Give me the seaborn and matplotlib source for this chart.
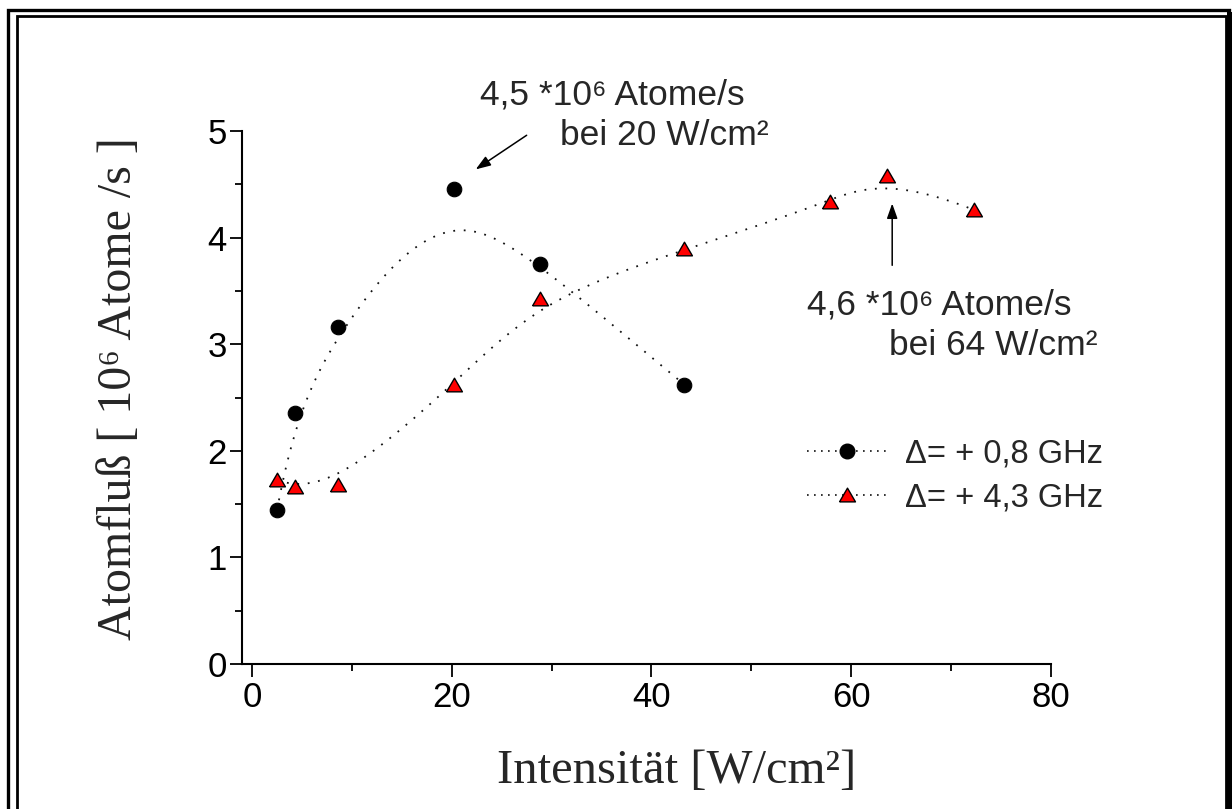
import numpy as np
import matplotlib
matplotlib.use("Agg")
import matplotlib.pyplot as plt
import seaborn as sns
from matplotlib.lines import Line2D
from matplotlib.patches import Rectangle
from matplotlib.path import Path
from matplotlib.markers import MarkerStyle

# Measured atom flux vs. laser intensity for two detunings
intensity_a = [2.5, 4.3, 8.6, 20.2, 28.8, 43.3]
flux_a = [1.44, 2.35, 3.16, 4.46, 3.75, 2.62]

intensity_b = [2.5, 4.3, 8.6, 20.2, 28.8, 43.3, 57.9, 63.6, 72.3]
flux_b = [1.73, 1.66, 1.68, 2.62, 3.42, 3.89, 4.33, 4.58, 4.26]

label_a = "Δ= + 0,8 GHz"
label_b = "Δ= + 4,3 GHz"

x_ticks = [0, 20, 40, 60, 80]
y_ticks = [0, 1, 2, 3, 4, 5]

SANS = ["Liberation Sans", "DejaVu Sans"]
SERIF = ["Liberation Serif", "DejaVu Serif"]

sns.set_style("ticks")
plt.rcParams["font.family"] = SANS


def bspline(xs, ys, n=400, k=3):
    """Clamped uniform cubic B-spline using the points as control points."""
    P = np.column_stack([xs, ys]).astype(float)
    m = len(P)
    knots = np.concatenate([np.zeros(k), np.linspace(0, 1, m - k + 1), np.ones(k)])
    u = np.linspace(0, 1, n)
    u[-1] -= 1e-9
    N = np.zeros((n, len(knots) - 1))
    for i in range(len(knots) - 1):
        N[:, i] = (knots[i] <= u) & (u < knots[i + 1])
    for d in range(1, k + 1):
        Nn = np.zeros((n, len(knots) - 1 - d))
        for i in range(len(knots) - 1 - d):
            a = knots[i + d] - knots[i]
            b = knots[i + d + 1] - knots[i + 1]
            t1 = (u - knots[i]) / a * N[:, i] if a > 0 else 0
            t2 = (knots[i + d + 1] - u) / b * N[:, i + 1] if b > 0 else 0
            Nn[:, i] = t1 + t2
        N = Nn
    return N @ P


W, H = 1232, 809
fig = plt.figure(figsize=(W / 100, H / 100), dpi=100)
fig.patch.set_facecolor("white")


def fx(px):
    return px / W


def fy(py):
    return 1 - py / H


# double frame with shadow around the page
fig.add_artist(Rectangle((fx(8), fy(830)), fx(1229) - fx(8), fy(10.5) - fy(830),
                         transform=fig.transFigure, fill=False, lw=2.4,
                         ec="black", clip_on=False))
fig.add_artist(Rectangle((fx(16.5), fy(830)), fx(1225.5) - fx(16.5), fy(16) - fy(830),
                         transform=fig.transFigure, fill=False, lw=2.0,
                         ec="black", clip_on=False))
fig.add_artist(Rectangle((fx(1226.5), fy(830)), fx(1232) - fx(1226.5), fy(12) - fy(830),
                         transform=fig.transFigure, fill=True, lw=0,
                         fc="black", clip_on=False))

ax = fig.add_axes([fx(242), fy(664), fx(1051) - fx(242), fy(131) - fy(664)])
ax.set_facecolor("white")

dot_style = (0, (1.0, 4.8))
curve_a = bspline(intensity_a, flux_a)
curve_b = bspline(intensity_b, flux_b)
sns.lineplot(x=curve_a[:, 0], y=curve_a[:, 1], sort=False, estimator=None,
             color="#111111", lw=1.3, linestyle=dot_style, ax=ax)
sns.lineplot(x=curve_b[:, 0], y=curve_b[:, 1], sort=False, estimator=None,
             color="#111111", lw=1.3, linestyle=dot_style, ax=ax)

tri = MarkerStyle(Path([(-1, -0.80), (1, -0.80), (0, 0.92), (-1, -0.80)]))
sns.scatterplot(x=intensity_a, y=flux_a, marker="o", s=110, color="black",
                edgecolor="black", linewidth=0.8, ax=ax, zorder=3)
sns.scatterplot(x=intensity_b, y=flux_b, marker=tri, s=130, color="#ff0000",
                edgecolor="black", linewidth=1.0, ax=ax, zorder=3)

ax.set_xlim(-1, 80)
ax.set_ylim(0, 5)
ax.set_xticks(x_ticks)
ax.set_yticks(y_ticks)
ax.set_xticks([10, 30, 50, 70], minor=True)
ax.set_yticks(np.arange(0.5, 5, 1.0), minor=True)
ax.set_xticklabels([str(v) for v in x_ticks])
ax.set_yticklabels([str(v) for v in y_ticks])
sns.despine(ax=ax)
for side in ("left", "bottom"):
    ax.spines[side].set_linewidth(1.5)
    ax.spines[side].set_color("black")
ax.tick_params(which="major", direction="out", length=9, width=1.3,
               labelsize=25, color="black", labelcolor="black")
ax.tick_params(which="minor", direction="out", length=5, width=1.3, color="black")
ax.tick_params(axis="y", which="major", pad=2)
ax.tick_params(axis="x", which="major", pad=3)

ax.set_xlabel("Intensität [W/cm²]", family=SERIF, fontsize=35, va="baseline")
ax.xaxis.set_label_coords((677 - 242) / 809, (664 - 783) / 533)
ax.set_ylabel("Atomfluß [ 10⁶ Atome /s ]", family=SERIF, fontsize=34.5,
              va="baseline")
ax.yaxis.set_label_coords((131 - 242) / 809, (664 - 389) / 533)

# annotations for the two maxima
arrow = dict(arrowstyle="-|>,head_length=0.9,head_width=0.32", color="black",
             lw=1.1, mutation_scale=10, shrinkA=0, shrinkB=0)
ax.annotate("", xy=(22.4, 4.64), xytext=(27.5, 4.96), arrowprops=arrow,
            annotation_clip=False)
ax.annotate("", xy=(64.1, 4.32), xytext=(64.1, 3.74), arrowprops=arrow,
            annotation_clip=False)
note_size = 25.5
ax.text(22.8, 5.244, "4,5 *10⁶ Atome/s", fontsize=note_size,
        ha="left", va="baseline")
ax.text(30.8, 4.869, "bei 20 W/cm²", fontsize=note_size,
        ha="left", va="baseline")
ax.text(55.6, 3.274, "4,6 *10⁶ Atome/s", fontsize=note_size,
        ha="left", va="baseline")
ax.text(63.8, 2.899, "bei 64 W/cm²", fontsize=note_size,
        ha="left", va="baseline")

handles = [
    Line2D([], [], color="#111111", lw=1.2, linestyle=(0, (1.0, 3.2)),
           marker="o", markersize=10.5, markerfacecolor="black",
           markeredgecolor="black"),
    Line2D([], [], color="#111111", lw=1.2, linestyle=(0, (1.0, 3.2)),
           marker=tri, markersize=11.5, markerfacecolor="#ff0000",
           markeredgecolor="black", markeredgewidth=1.0),
]
fig.legend(handles, [label_a, label_b], loc="center left",
           bbox_to_anchor=(fx(807), fy(476)), frameon=False, fontsize=23.5,
           handlelength=2.45, handletextpad=0.55, labelspacing=0.4,
           borderpad=0, borderaxespad=0, numpoints=1)

fig.savefig("out.png", dpi=100, facecolor="white")
